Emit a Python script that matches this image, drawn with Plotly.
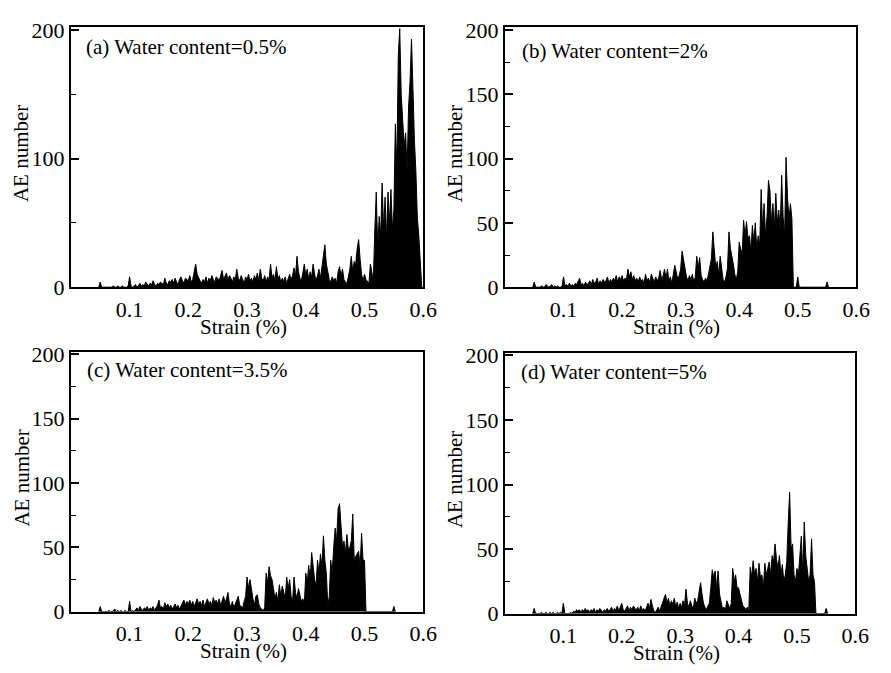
import numpy as np
import plotly.graph_objects as go

# ---------------- data (AE number vs strain, sampled every 0.0025 % strain from 0.0475) ----------------
STRAIN_START = 0.0475
STRAIN_STEP = 0.0025

ae_a = [0,
    4, 0, 0, 0, 0, 0, 0, 0, 0, 1,
    0, 0, 1, 0, 0, 1, 0, 0, 0, 1,
    8, 1, 0, 1, 2, 0, 1, 3, 1, 2,
    1, 4, 2, 1, 3, 2, 5, 2, 1, 3,
    2, 4, 3, 2, 7, 3, 2, 5, 4, 6,
    3, 7, 4, 2, 6, 8, 5, 3, 7, 6,
    5, 9, 4, 6, 12, 18, 10, 7, 5, 3,
    6, 4, 8, 3, 7, 5, 9, 6, 4, 8,
    7, 5, 10, 13, 6, 8, 11, 5, 9, 7,
    4, 8, 6, 14, 7, 5, 9, 6, 3, 8,
    6, 10, 5, 7, 4, 9, 6, 11, 5, 14,
    7, 5, 9, 4, 8, 6, 18, 7, 10, 5,
    16, 6, 9, 4, 7, 5, 8, 3, 6, 10,
    6, 9, 15, 8, 24, 12, 7, 5, 11, 18,
    9, 14, 6, 12, 8, 18, 10, 5, 9, 14,
    7, 16, 22, 33, 18, 10, 6, 4, 8, 5,
    7, 3, 12, 16, 9, 14, 6, 4, 3, 8,
    14, 24, 12, 20, 18, 30, 37, 22, 10, 5,
    10, 6, 4, 3, 18, 10, 5, 44, 74, 30,
    55, 40, 81, 45, 70, 38, 74, 50, 76, 45,
    60, 127, 93, 180, 201, 150, 133, 110, 120, 90,
    140, 160, 193, 150, 114, 90, 54, 40, 20,
    0]

ae_b = [0,
    4, 0, 0, 0, 0, 1, 0, 0, 2, 1,
    0, 1, 2, 0, 1, 0, 1, 0, 0, 1,
    8, 1, 2, 1, 3, 1, 2, 1, 3, 2,
    4, 7, 2, 3, 1, 4, 2, 3, 5, 2,
    6, 3, 4, 7, 2, 5, 3, 6, 4, 5,
    8, 3, 6, 4, 7, 5, 9, 4, 8, 6,
    9, 5, 7, 6, 14, 8, 12, 6, 9, 5,
    7, 4, 8, 5, 6, 3, 10, 5, 7, 4,
    10, 6, 4, 8, 5, 7, 13, 6, 9, 14,
    7, 14, 5, 8, 3, 10, 17, 12, 6, 9,
    14, 28, 20, 12, 8, 5, 9, 6, 10, 4,
    8, 24, 15, 23, 9, 6, 4, 7, 5, 10,
    18, 22, 43, 31, 15, 20, 9, 24, 12, 6,
    4, 8, 15, 43, 30, 25, 18, 10, 6, 12,
    35, 30, 25, 52, 40, 51, 38, 40, 28, 48,
    35, 50, 30, 40, 32, 76, 45, 65, 40, 55,
    83, 75, 50, 65, 45, 73, 50, 60, 45, 87,
    55, 40, 101, 70, 53, 65, 53, 0, 0, 0,
    8, 0, 0, 0, 0, 0, 0, 0, 0, 0,
    0, 0, 0, 0, 0, 0, 0, 0, 0, 0,
    4, 0]

ae_c = [0,
    4, 0, 0, 0, 0, 0, 1, 0, 0, 1,
    2, 0, 1, 0, 1, 0, 0, 1, 0, 0,
    8, 0, 1, 0, 2, 3, 1, 4, 2, 1,
    3, 2, 4, 1, 3, 2, 4, 1, 3, 5,
    9, 3, 4, 2, 7, 4, 6, 3, 5, 2,
    4, 6, 3, 5, 2, 4, 7, 9, 5, 8,
    6, 9, 5, 8, 4, 7, 10, 6, 8, 5,
    9, 4, 7, 10, 6, 8, 5, 11, 7, 9,
    6, 10, 5, 8, 12, 7, 10, 15, 6, 4,
    8, 3, 6, 10, 12, 5, 4, 3, 8, 12,
    27, 18, 25, 15, 10, 5, 12, 13, 6, 3,
    2, 1, 3, 30, 22, 35, 28, 25, 18, 10,
    15, 8, 21, 12, 20, 14, 10, 27, 18, 25,
    12, 8, 27, 15, 10, 18, 14, 8, 10, 6,
    30, 22, 36, 25, 46, 32, 25, 20, 40, 30,
    45, 35, 59, 40, 30, 5, 12, 40, 30, 50,
    65, 55, 80, 84, 65, 50, 55, 45, 60, 48,
    50, 55, 76, 40, 43, 45, 47, 35, 61, 40,
    40, 0, 0, 0, 0, 0, 0, 0, 0, 0,
    0, 0, 0, 0, 0, 0, 0, 0, 0, 0,
    4, 0]

ae_d = [0,
    4, 0, 0, 0, 0, 1, 0, 0, 1, 0,
    0, 1, 0, 1, 0, 0, 1, 0, 1, 0,
    8, 0, 0, 0, 0, 1, 0, 2, 1, 3,
    2, 3, 1, 3, 2, 4, 2, 3, 1, 3,
    2, 4, 1, 3, 2, 4, 2, 1, 3, 2,
    4, 2, 3, 5, 2, 4, 3, 6, 2, 5,
    8, 3, 2, 4, 6, 2, 5, 3, 6, 4,
    3, 5, 2, 6, 3, 4, 2, 5, 8, 4,
    11, 6, 2, 1, 3, 5, 2, 6, 8, 12,
    15, 8, 12, 6, 10, 7, 12, 5, 9, 4,
    8, 5, 10, 6, 19, 8, 5, 10, 6, 4,
    12, 8, 10, 18, 24, 15, 8, 5, 3, 6,
    8, 20, 34, 28, 33, 20, 33, 15, 8, 4,
    5, 3, 10, 6, 4, 8, 35, 25, 30, 20,
    20, 15, 10, 6, 5, 3, 5, 2, 36, 28,
    41, 30, 35, 25, 39, 28, 30, 20, 39, 30,
    35, 40, 30, 45, 40, 54, 42, 35, 45, 30,
    38, 25, 30, 40, 70, 94, 50, 54, 30, 25,
    35, 30, 45, 60, 30, 71, 45, 35, 25, 30,
    58, 30, 25, 0, 0, 0, 0, 0, 0, 0,
    4, 0]

panel_labels = ["(a) Water content=0.5%", "(b) Water content=2%",
                "(c) Water content=3.5%", "(d) Water content=5%"]
x_tick_vals = [0.1, 0.2, 0.3, 0.4, 0.5, 0.6]
x_tick_text = ["0.1", "0.2", "0.3", "0.4", "0.5", "0.6"]
x_title = "Strain (%)"
y_title = "AE number"

# ---------------- layout geometry (pixels) ----------------
W, H = 891, 673
FONT = "Liberation Serif"
panels = [
    dict(vals=ae_a, x0=72, x1=430, y0=18, y1=287, major=100, minor=50, lx=85, ly=38),
    dict(vals=ae_b, x0=513, x1=870, y0=18, y1=287, major=50, minor=25, lx=528, ly=42),
    dict(vals=ae_c, x0=72, x1=430, y0=354, y1=623, major=50, minor=25, lx=86, ly=373),
    dict(vals=ae_d, x0=513, x1=869, y0=355, y1=625, major=50, minor=25, lx=527, ly=375),
]

fig = go.Figure()
layout = dict(width=W, height=H, margin=dict(l=0, r=0, t=0, b=0),
              paper_bgcolor="white", plot_bgcolor="white", showlegend=False,
              font=dict(family=FONT, size=21, color="black"))
annotations = []

for i, p in enumerate(panels):
    n = i + 1
    xs = np.round(STRAIN_START + STRAIN_STEP * np.arange(len(p["vals"])), 4)
    xa = "x" if n == 1 else f"x{n}"
    ya = "y" if n == 1 else f"y{n}"
    fig.add_trace(go.Scatter(x=xs, y=p["vals"], mode="lines", xaxis=xa, yaxis=ya,
                             line=dict(color="black", width=1),
                             fill="tozeroy", fillcolor="black", hoverinfo="skip"))
    xkey = "xaxis" if n == 1 else f"xaxis{n}"
    ykey = "yaxis" if n == 1 else f"yaxis{n}"
    layout[xkey] = dict(domain=[p["x0"] / W, p["x1"] / W], anchor=ya, range=[0, 0.6],
                        tickvals=x_tick_vals, ticktext=x_tick_text, ticks="",
                        showgrid=False, zeroline=False, showline=True, mirror=True,
                        linecolor="black", linewidth=2, ticklabelstandoff=1,
                        tickfont=dict(family=FONT, size=22))
    layout[ykey] = dict(domain=[1 - p["y1"] / H, 1 - p["y0"] / H], anchor=xa,
                        range=[0, 202], tick0=0, dtick=p["major"], ticks="inside",
                        ticklen=8, tickwidth=1.5, tickcolor="black",
                        minor=dict(tick0=0, dtick=p["minor"], ticks="inside", ticklen=5,
                                   tickwidth=1.2, tickcolor="black"),
                        showgrid=False, zeroline=False, showline=True, mirror=True,
                        linecolor="black", linewidth=2,
                        tickfont=dict(family=FONT, size=22))
    annotations.append(dict(text=panel_labels[i], xref="paper", yref="paper",
                            x=p["lx"] / W, y=1 - p["ly"] / H, xanchor="left",
                            yanchor="middle", showarrow=False,
                            font=dict(family=FONT, size=21)))
    annotations.append(dict(text=y_title, xref="paper", yref="paper",
                            x=(p["x0"] - 50) / W, y=1 - (p["y0"] + p["y1"] - 8) / 2 / H,
                            xanchor="center", yanchor="middle", textangle=-90,
                            showarrow=False, font=dict(family=FONT, size=21)))
    annotations.append(dict(text=x_title, xref="paper", yref="paper",
                            x=(p["x0"] + p["x1"] - 8) / 2 / W, y=1 - (p["y1"] + 41) / H,
                            xanchor="center", yanchor="middle",
                            showarrow=False, font=dict(family=FONT, size=21)))

layout["annotations"] = annotations
fig.update_layout(**layout)
fig.write_html("out.html", config={"displayModeBar": False},
               post_script="document.body.style.margin='0';")
